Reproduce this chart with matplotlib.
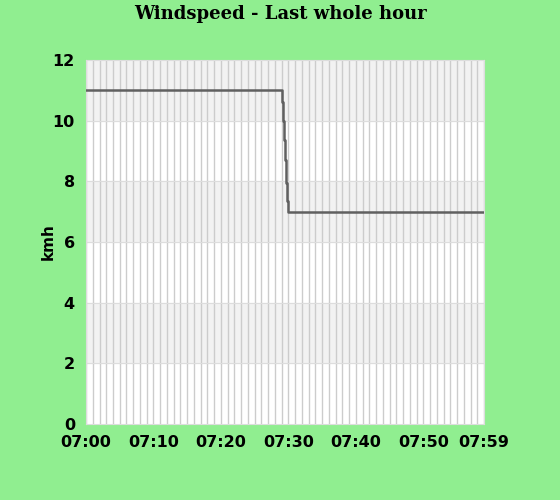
import matplotlib
matplotlib.use("Agg")
import matplotlib.pyplot as plt
import numpy as np

# minutes past 07:00 and windspeed (kmh)
minutes = [0, 29.0, 29.15, 29.3, 29.45, 29.6, 29.75, 29.9, 59]
speed = [11, 10.63, 10.0, 9.35, 8.7, 7.95, 7.35, 7.0, 7.0]

tick_pos = [0, 10, 20, 30, 40, 50, 59]
tick_labels = ["07:00", "07:10", "07:20", "07:30", "07:40", "07:50", "07:59"]

bg = "#90ee90"
fig = plt.figure(figsize=(5.6, 5.0), dpi=100, facecolor=bg)
ax = fig.add_axes([0.1536, 0.152, 0.7107, 0.728])
ax.set_facecolor("white")

# alternating bands
for lo in range(2, 12, 4):
    ax.axhspan(lo, lo + 2, color="#f2f2f2", zorder=0)

for m in range(0, 60):
    ax.axvline(m, color="#cccccc", lw=1, zorder=1)
for y in range(2, 12, 2):
    ax.axhline(y, color="#dddddd", lw=0.8, zorder=1)

ax.step(minutes, speed, where="post", color="#606060", lw=1.8, zorder=3)

ax.set_xlim(0, 59)
ax.set_ylim(0, 12)
ax.set_xticks(tick_pos)
ax.set_xticklabels(tick_labels)
ax.set_yticks(range(0, 13, 2))
ax.tick_params(length=0, labelsize=11.5)
for lab in ax.get_xticklabels() + ax.get_yticklabels():
    lab.set_fontweight("bold")
ax.tick_params(axis="x", pad=8)
ax.tick_params(axis="y", pad=8)
for s in ax.spines.values():
    s.set_color("#dddddd")

ax.set_ylabel("kmh", fontsize=11, fontweight="bold")
ax.yaxis.set_label_coords(-0.075, 0.5)
fig.suptitle("Windspeed - Last whole hour", y=0.99, fontsize=13,
             fontweight="bold", family="DejaVu Serif")

fig.savefig("out.png", dpi=100, facecolor=bg)
